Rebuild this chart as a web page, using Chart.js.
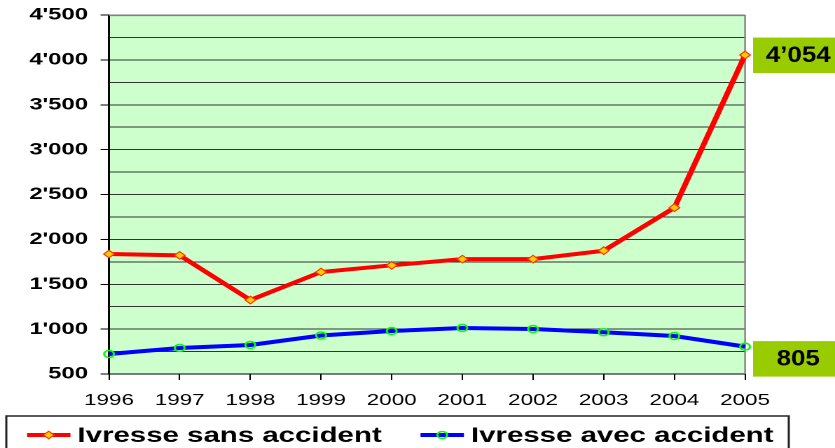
<!DOCTYPE html>
<html><head><meta charset="utf-8">
<script src="https://cdn.jsdelivr.net/npm/chart.js@4"></script>
<style>
html,body{margin:0;padding:0;background:#fff;overflow:hidden}
#wrap{position:absolute;left:0;top:0;width:596px;height:448px;transform:scaleX(1.40101);transform-origin:0 0}
</style></head><body>
<div id="wrap"><canvas id="c"></canvas></div>
<script>
const years = ['1996','1997','1998','1999','2000','2001','2002','2003','2004','2005'];
const sansAccident = [1837, 1822, 1324, 1636, 1711, 1780, 1780, 1874, 2353, 4054];
const avecAccident = [723, 790, 823, 929, 979, 1012, 1001, 965, 923, 805];
const seriesNames = ['Ivresse sans accident', 'Ivresse avec accident'];
const yMin = 500, yMax = 4500, yStep = 250, yLabelStep = 500;

const FONT = '"Liberation Sans", Arial, Helvetica, sans-serif';
Chart.defaults.font.family = FONT;
Chart.defaults.color = '#000';

function fmt(v, sep){ return String(v).replace(/\B(?=(\d{3})+(?!\d))/g, sep); }

const bgPlugin = {
  id:'bgPlugin',
  beforeDraw(chart){
    const {ctx, chartArea:a} = chart;
    ctx.save(); ctx.fillStyle = '#CCFFCC';
    ctx.fillRect(a.left, a.top, a.right-a.left, a.bottom-a.top);
    ctx.restore();
  },
  beforeDatasetsDraw(chart){
    const {ctx, chartArea:a} = chart;
    ctx.save(); ctx.strokeStyle = '#808080'; ctx.lineWidth = 1.2;
    ctx.beginPath(); ctx.moveTo(a.left, a.top+0.5); ctx.lineTo(a.right, a.top+0.5);
    ctx.moveTo(a.right, a.top); ctx.lineTo(a.right, a.bottom); ctx.stroke();
    ctx.restore();
  }
};

function drawMarker(ctx, ds, x, y){
  ctx.save();
  ctx.lineWidth = ds.pointBorderWidth; ctx.strokeStyle = ds.pointBorderColor; ctx.fillStyle = ds.pointBackgroundColor;
  const r = ds.pointRadius;
  ctx.beginPath();
  if (ds.pointStyle === 'rectRot'){
    ctx.moveTo(x, y-r); ctx.lineTo(x+r, y); ctx.lineTo(x, y+r); ctx.lineTo(x-r, y); ctx.closePath();
  } else { ctx.arc(x, y, r, 0, Math.PI*2); }
  ctx.fill(); ctx.stroke(); ctx.restore();
}

const legendPlugin = {
  id:'boxLegend',
  afterDraw(chart){
    const ctx = chart.ctx;
    const top = chart.chartArea.bottom + 42;
    ctx.save();
    ctx.strokeStyle = '#222'; ctx.lineWidth = 1.5;
    ctx.strokeRect(4.5, top, 558.5, 60);
    ctx.font = 'bold 21px ' + FONT;
    ctx.textBaseline = 'middle'; ctx.fillStyle = '#000';
    let x = 19.3; const ly = top + 19;
    chart.data.datasets.forEach(ds=>{
      ctx.strokeStyle = ds.borderColor; ctx.lineWidth = 4;
      ctx.beginPath(); ctx.moveTo(x, ly); ctx.lineTo(x+31, ly); ctx.stroke();
      drawMarker(ctx, ds, x+15.5, ly);
      ctx.fillStyle = '#000';
      ctx.fillText(ds.label, x+36, ly+1);
      x += 36 + ctx.measureText(ds.label).width + 27.7;
    });
    ctx.restore();
  }
};

const endLabels = {
  id:'endLabels',
  afterDraw(chart){
    const ctx = chart.ctx, ys = chart.scales.y, a = chart.chartArea;
    const offsets = [0, 12];
    chart.data.datasets.forEach((ds,i)=>{
      const v = ds.data[ds.data.length-1];
      const py = ys.getPixelForValue(v) + offsets[i];
      const left = a.right + 5.7, w = chart.width - left;
      ctx.save();
      ctx.fillStyle = '#99CC00';
      ctx.fillRect(left, py-17.5, w, 35.5);
      ctx.translate(left + w/2 + 3, py + 1);
      ctx.scale(0.84, 1);
      ctx.fillStyle = '#000'; ctx.font = 'bold 22px ' + FONT;
      ctx.textAlign = 'center'; ctx.textBaseline = 'middle';
      ctx.fillText(fmt(v, '\u2019'), 0, 0);
      ctx.restore();
    });
  }
};

new Chart(document.getElementById('c'), {
  type:'line',
  data:{
    labels: years,
    datasets:[
      { label: seriesNames[0], data: sansAccident, borderColor:'#FF0000', borderWidth:4,
        pointStyle:'rectRot', pointRadius:3.8, pointBorderColor:'#FF3300', pointBackgroundColor:'#FFCC00', pointBorderWidth:1,
        tension:0, fill:false },
      { label: seriesNames[1], data: avecAccident, borderColor:'#0000FF', borderWidth:4,
        pointStyle:'circle', pointRadius:3.5, pointBorderColor:'#00FF00', pointBackgroundColor:'rgba(0,0,0,0)', pointBorderWidth:1.5,
        tension:0, fill:false }
    ]
  },
  options:{
    responsive:true, maintainAspectRatio:false, animation:false, devicePixelRatio:2,
    layout:{ padding:{ left:0, top:15, right:64.2, bottom:32 } },
    plugins:{ legend:{display:false}, tooltip:{enabled:false} },
    scales:{
      x:{
        type:'category', offset:false,
        grid:{ drawOnChartArea:false, drawTicks:true, tickLength:6, tickColor:'#000', color:'#000' },
        border:{ display:true, color:'#000', width:1 },
        ticks:{ font:{ size:16 }, padding:11, maxRotation:0, autoSkip:false, color:'#000' },
        afterFit(s){ s.height = 42; }
      },
      y:{
        min:yMin, max:yMax,
        grid:{
          color:(c)=> (c.tick && c.tick.value === yMax) ? '#808080' : '#333',
          lineWidth:1, drawTicks:true, tickLength:6,
          tickColor:(c)=> (c.tick && c.tick.value % yLabelStep === 0) ? '#000' : 'rgba(0,0,0,0)'
        },
        border:{ display:true, color:'#000', width:1.5 },
        ticks:{ stepSize:yStep, autoSkip:false, padding:9, color:'#000', font:{ size:17, weight:'bold' },
          callback:(v)=> v % yLabelStep === 0 ? fmt(v, "'") : '' },
        afterFit(s){ s.width = 77.8; s.paddingTop = 0; s.paddingBottom = 0; }
      }
    }
  },
  plugins:[bgPlugin, legendPlugin, endLabels]
});
</script>
</body></html>
